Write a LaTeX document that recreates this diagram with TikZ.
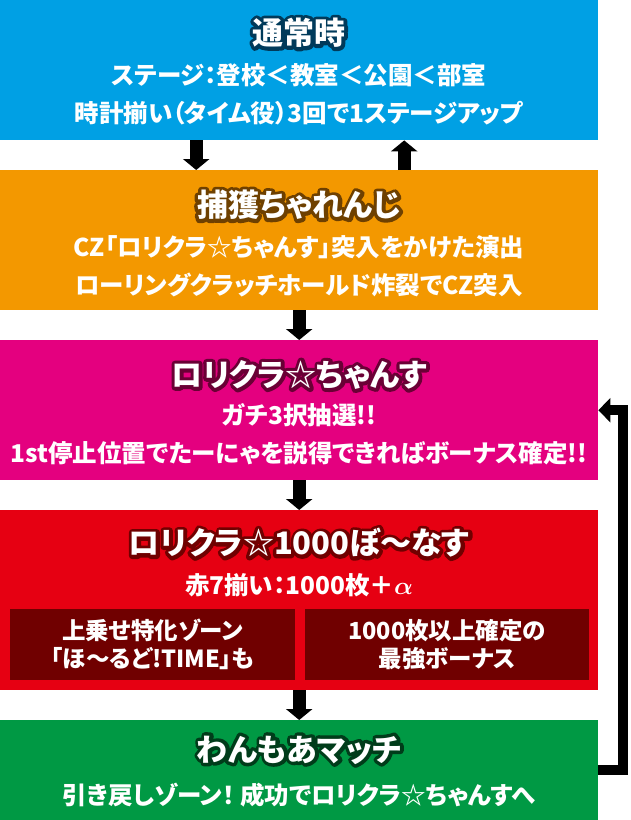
\documentclass[tikz,border=0pt]{standalone}
\usepackage{fontspec}
\usepackage{amsmath}
\usepackage{bm}
\usepackage{tikz}
\usetikzlibrary{arrows.meta}
\setmainfont{Noto Sans CJK JP}[RawFeature=+palt,BoldFont={Noto Sans CJK JP Black}]

\definecolor{normalblue}{RGB}{0,160,228}
\definecolor{normaldark}{RGB}{0,58,90}
\definecolor{captureorange}{RGB}{243,152,0}
\definecolor{capturedark}{RGB}{110,64,0}
\definecolor{chancepink}{RGB}{228,0,127}
\definecolor{chancedark}{RGB}{106,0,53}
\definecolor{bonusred}{RGB}{230,0,18}
\definecolor{bonusdark}{RGB}{112,0,0}
\definecolor{matchgreen}{RGB}{0,153,68}
\definecolor{matchdark}{RGB}{0,60,26}

\newcommand{\outlined}[2]{\leavevmode\rlap{\color{#1}\special{pdf:literal 2 Tr 7 w 1 j}#2\special{pdf:literal 0 Tr}}#2}

\begin{document}
\begin{tikzpicture}[x=1pt,y=-1pt,
    stage/.style={minimum width=598pt,inner sep=0pt,anchor=north west},
    subbox/.style={fill=bonusdark,minimum height=71pt,inner sep=0pt,anchor=north west},
    title/.style={text=white,inner sep=0pt,font=\bfseries\fontsize{31}{31}\selectfont},
    body/.style={text=white,inner sep=0pt,font=\bfseries\fontsize{24.5}{24.5}\selectfont},
    arr/.style={line width=13pt,-{Triangle[width=26pt,length=11pt]}},
    back/.style={line width=10pt,-{Triangle[width=24pt,length=12pt]}}]
        \useasboundingbox (0,0) rectangle (630,820);
        \fill[white] (0,0) rectangle (630,820);
        % stages
        \node[stage,fill=normalblue,minimum height=140pt] (normal) at (0,0){};
        \node[stage,fill=captureorange,minimum height=140pt] (capture) at (0,170){};
        \node[stage,fill=chancepink,minimum height=140pt] (chance) at (0,340){};
        \node[stage,fill=bonusred,minimum height=180pt] (bonus) at (0,510){};
        \node[stage,fill=matchgreen,minimum height=100pt] (match) at (0,720){};
        \node[subbox,minimum width=285pt] (upper) at (10,609){};
        \node[subbox,minimum width=284pt] (sure) at (305,609){};
        % texts
        \node[title] (normalTitle) at (299,33){\outlined{normaldark}{通常時}};
        \node[body] (normalA) at (299,75){ステージ：登校＜教室＜公園＜部室};
        \node[body] (normalB) at (299,113){時計揃い（タイム役）3回で1ステージアップ};
        \node[title] (captureTitle) at (299,205){\outlined{capturedark}{捕獲ちゃれんじ}};
        \node[body] (captureA) at (299,247){CZ「ロリクラ☆ちゃんす」突入をかけた演出};
        \node[body] (captureB) at (299,285){ローリングクラッチホールド炸裂でCZ突入};
        \node[title] (chanceTitle) at (299,375){\outlined{chancedark}{ロリクラ☆ちゃんす}};
        \node[body] (chanceA) at (299,415){ガチ3択抽選!!};
        \node[body] (chanceB) at (299,453){1st停止位置でたーにゃを説得できればボーナス確定!!};
        \node[title] (bonusTitle) at (299,543){\outlined{bonusdark}{ロリクラ☆1000ぼ〜なす}};
        \node[body] (bonusA) at (299,585){赤7揃い：1000枚＋$\bm{\alpha}$};
        \node[body,align=center,font=\bfseries\fontsize{23.5}{28}\selectfont] (upperText) at (upper){上乗せ特化ゾーン\\「ほ〜るど!TIME」も};
        \node[body,align=center,font=\bfseries\fontsize{23.5}{28}\selectfont] (sureText) at (sure){1000枚以上確定の\\最強ボーナス};
        \node[title] (matchTitle) at (299,750){\outlined{matchdark}{わんもあマッチ}};
        \node[body] (matchA) at (299,795){引き戻しゾーン！ 成功でロリクラ☆ちゃんすへ};
        % arrows
        \draw[arr] ([xshift=-103pt]normal.south) -- ([xshift=-103pt]capture.north);
        \draw[arr] ([xshift=105pt]capture.north) -- ([xshift=105pt]normal.south);
        \draw[arr] (capture.south) -- (chance.north);
        \draw[arr] (chance.south) -- (bonus.north);
        \draw[arr] (bonus.south) -- (match.north);
        \draw[back] (match.east) -- ++(25,0) |- (chance.east);
    \end{tikzpicture}
\end{document}
